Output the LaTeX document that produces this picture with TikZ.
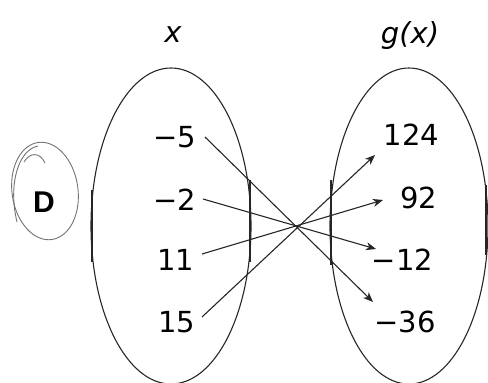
\documentclass[tikz,border=0pt]{standalone}
\usepackage{fontspec}
\setmainfont{DejaVu Sans}
\newfontfamily\dfont{Liberation Sans}
\usetikzlibrary{arrows.meta}
\begin{document}
\begin{tikzpicture}[x=1pt,y=-1pt,
  pen/.style={line width=1.1pt,draw=black!85},
  pencil/.style={line width=0.9pt,draw=black!55},
  num/.style={inner sep=0pt,anchor=base,font=\fontsize{29}{30}\selectfont},
  lab/.style={inner sep=0pt,anchor=base,font=\fontsize{29}{30}\selectfont\itshape},
  maparrow/.style={pen,-{Stealth[length=10pt,width=8pt,inset=3pt]}}]
\useasboundingbox (0,0) rectangle (488,383);
% sets
\draw[pen] (171,226) ellipse [x radius=80pt, y radius=158pt];
\draw[pen] (409,226) ellipse [x radius=79pt, y radius=158pt];
\draw[pen] (92,190) -- (92,262);
\draw[pen] (250,180) -- (250,262);
\draw[pen] (331,180) -- (331,265);
\draw[pen] (486,185) -- (486,255);
% headings
\node[lab] (hx) at (173,42) {x};
\node[lab] (hg) at (410,43) {g(x)};
% domain values
\node[num] (a1) at (175,147) {−5};
\node[num] (a2) at (175,210) {−2};
\node[num] (a3) at (175.5,270) {11};
\node[num] (a4) at (176.5,332) {15};
% range values
\node[num] (b1) at (411.5,145) {124};
\node[num] (b2) at (419,208) {92};
\node[num] (b3) at (402.5,270) {−12};
\node[num] (b4) at (405,332) {−36};
% arrow ends
\coordinate (s1) at (205,137);
\coordinate (s2) at (203,199);
\coordinate (s3) at (202,254);
\coordinate (s4) at (202,317);
\coordinate (t1) at (375,155);
\coordinate (t2) at (383,200);
\coordinate (t3) at (376,249);
\coordinate (t4) at (373,302);
\draw[maparrow] (s1) -- (t4);
\draw[maparrow] (s2) -- (t3);
\draw[maparrow] (s3) -- (t2);
\draw[maparrow] (s4) -- (t1);
% circled answer letter
\draw[pencil,rotate around={8:(45,191)}] (45,191) ellipse [x radius=33pt, y radius=49pt];
\draw[pencil] (17,222) .. controls (8,185) and (18,150) .. (38,146);
\draw[pencil] (24,162) .. controls (30,152) and (40,152) .. (45,163);
\node[inner sep=0pt,anchor=base,font=\dfont\bfseries\fontsize{30}{31}\selectfont] (d) at (44,212) {D};
\end{tikzpicture}
\end{document}
